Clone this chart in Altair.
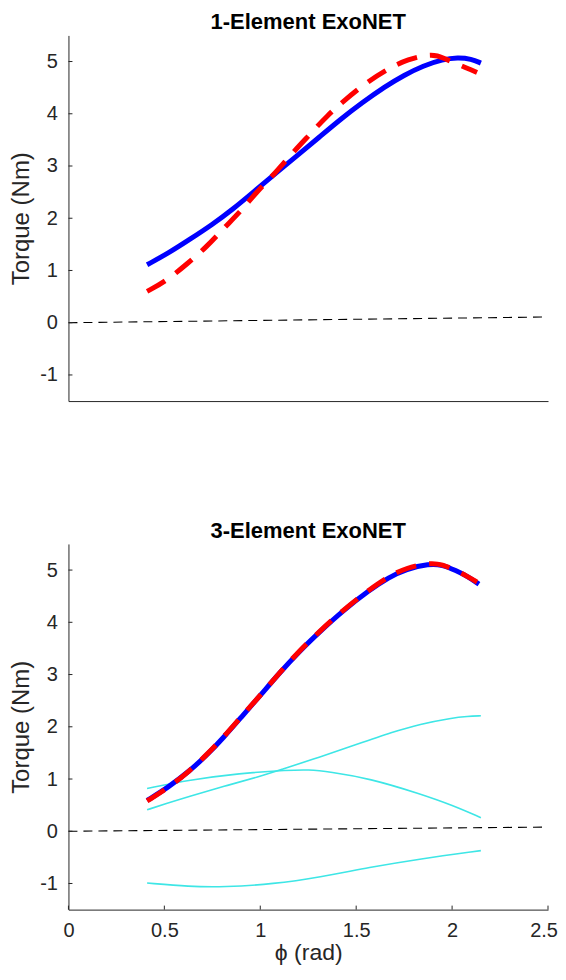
import altair as alt
import pandas as pd

# ---------------- data ----------------
X_TICKS = [0, 0.5, 1, 1.5, 2, 2.5]
Y_TICKS = [-1, 0, 1, 2, 3, 4, 5]
TITLES = ["1-Element ExoNET", "3-Element ExoNET"]
Y_TITLE = "Torque (Nm)"
X_TITLE = "ϕ (rad)"

# 1-Element panel
top_model_x = [0.41, 0.52, 0.63, 0.75, 0.86, 0.97, 1.08, 1.20, 1.31, 1.42, 1.53, 1.65, 1.75, 1.85, 1.95, 2.03, 2.10, 2.15]
top_model_y = [1.11, 1.33, 1.59, 1.88, 2.18, 2.52, 2.86, 3.22, 3.56, 3.90, 4.21, 4.52, 4.74, 4.92, 5.04, 5.08, 5.05, 4.97]
top_data_x = [0.41, 0.51, 0.62, 0.72, 0.81, 0.90, 0.98, 1.08, 1.16, 1.26, 1.35, 1.44, 1.54, 1.65, 1.77, 1.90, 1.96, 2.02, 2.08, 2.13]
top_data_y = [0.60, 0.80, 1.13, 1.45, 1.81, 2.14, 2.50, 2.87, 3.22, 3.61, 3.97, 4.26, 4.56, 4.83, 5.05, 5.15, 5.06, 4.96, 4.87, 4.79]
top_zero_x = [0.0, 2.5]
top_zero_y = [0.0, 0.11]

# 3-Element panel
bot_model_x = [0.41, 0.52, 0.63, 0.72, 0.81, 0.90, 1.00, 1.10, 1.20, 1.31, 1.43, 1.57, 1.67, 1.76, 1.88, 1.95, 2.02, 2.08, 2.14]
bot_model_y = [0.59, 0.84, 1.15, 1.45, 1.80, 2.18, 2.60, 3.03, 3.43, 3.82, 4.22, 4.62, 4.86, 5.02, 5.12, 5.10, 4.99, 4.88, 4.73]
bot_data_x = [0.41, 0.52, 0.63, 0.72, 0.81, 0.90, 1.00, 1.10, 1.20, 1.31, 1.43, 1.57, 1.67, 1.76, 1.88, 1.95, 2.02, 2.08, 2.13]
bot_data_y = [0.58, 0.83, 1.15, 1.46, 1.81, 2.19, 2.60, 3.03, 3.44, 3.83, 4.23, 4.63, 4.88, 5.04, 5.14, 5.11, 4.99, 4.88, 4.77]
bot_zero_x = [0.0, 2.5]
bot_zero_y = [0.0, 0.08]

elem1_x = [0.41, 0.50, 0.63, 0.81, 1.00, 1.10, 1.31, 1.50, 1.69, 1.83, 2.00, 2.08, 2.15]
elem1_y = [0.41, 0.52, 0.67, 0.86, 1.05, 1.17, 1.42, 1.66, 1.90, 2.05, 2.17, 2.20, 2.21]
elem2_x = [0.41, 0.63, 0.89, 1.15, 1.25, 1.36, 1.57, 1.83, 2.00, 2.15]
elem2_y = [0.82, 0.98, 1.11, 1.17, 1.18, 1.14, 1.01, 0.72, 0.50, 0.26]
elem3_x = [0.41, 0.63, 0.81, 1.07, 1.31, 1.57, 1.83, 2.15]
elem3_y = [-0.99, -1.06, -1.07, -1.01, -0.88, -0.69, -0.53, -0.37]

# ---------------- style ----------------
AX = "#262626"
FONT = "Liberation Sans"
W, H = 480, 366
xs = alt.Scale(domain=[0, 2.5], nice=False, zero=False)
ys = alt.Scale(domain=[-1.5, 5.5], nice=False, zero=False)

yaxis = alt.Axis(values=Y_TICKS, labelExpr="'' + datum.value", title=Y_TITLE, grid=False,
                 ticks=False, tickSize=0, labelPadding=11, titlePadding=6,
                 domainColor=AX, labelColor=AX, titleColor=AX, labelFontSize=20,
                 titleFontSize=24, titleFontWeight="normal", labelFont=FONT, titleFont=FONT)


def xaxis(show):
    if show:
        return alt.Axis(values=X_TICKS, labelExpr="'' + datum.value", title=X_TITLE, grid=False,
                        ticks=False, tickSize=0, labelPadding=11, titlePadding=1,
                        labelFlush=False,
                        labelOffset=alt.condition("datum.value === 2.5", alt.value(-4.5), alt.value(0)),
                        domainColor=AX, labelColor=AX, titleColor=AX,
                        labelFontSize=20, titleFontSize=23, titleFontWeight="normal",
                        labelFont=FONT, titleFont=FONT)
    return alt.Axis(labels=False, ticks=False, tickSize=0, title=None, grid=False,
                    domainColor=AX)


def line(xv, yv, color, width, show, dash=None, interp="basis"):
    df = pd.DataFrame({"x": xv, "y": yv})
    kw = dict(color=color, strokeWidth=width, interpolate=interp, clip=True)
    if dash:
        kw["strokeDash"] = dash
    return alt.Chart(df).mark_line(**kw).encode(
        x=alt.X("x:Q", scale=xs, axis=xaxis(show)),
        y=alt.Y("y:Q", scale=ys, axis=yaxis),
    )


def panel(title, mx, my, dx, dy, zx, zy, comps, show):
    layers = [line(zx, zy, "#000000", 1.1, show, dash=[9, 6], interp="linear")]
    for cx, cy in comps:
        layers.append(line(cx, cy, "#3ee6e6", 1.6, show))
    layers.append(line(mx, my, "#0000ff", 5, show))
    layers.append(line(dx, dy, "#ff0000", 5, show, dash=[21, 13]))
    yt = alt.Chart(pd.DataFrame({"v": Y_TICKS})).mark_rule(color=AX, strokeWidth=1).encode(
        y=alt.Y("v:Q", scale=ys, axis=yaxis), x=alt.value(0), x2=alt.value(4))
    layers.append(yt)
    if show:
        xt = alt.Chart(pd.DataFrame({"v": X_TICKS})).mark_rule(color=AX, strokeWidth=1).encode(
            x=alt.X("v:Q", scale=xs, axis=xaxis(show)), y=alt.value(H), y2=alt.value(H - 4))
        layers.append(xt)
    ttl = alt.Chart(pd.DataFrame({"t": [title]})).mark_text(
        font=FONT, fontSize=22, fontWeight="bold", color="#000000",
        align="center", baseline="alphabetic"
    ).encode(text="t:N", x=alt.value(W / 2), y=alt.value(-6))
    layers.append(ttl)
    return alt.layer(*layers).properties(width=W, height=H)


top = panel(TITLES[0], top_model_x, top_model_y, top_data_x, top_data_y,
            top_zero_x, top_zero_y, [], False)
bot = panel(TITLES[1], bot_model_x, bot_model_y, bot_data_x, bot_data_y,
            bot_zero_x, bot_zero_y,
            [(elem1_x, elem1_y), (elem2_x, elem2_y), (elem3_x, elem3_y)], True)

chart = alt.vconcat(top, bot, spacing=119).properties(
    padding={"left": 1.5, "top": 3, "right": 0, "bottom": 0},
    background="white",
).configure_view(stroke=None)

chart.save("out.html", embed_options={"renderer": "svg", "actions": False})
